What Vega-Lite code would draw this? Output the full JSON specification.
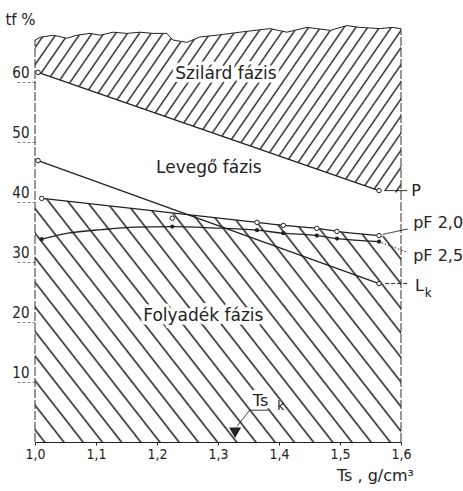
{
"$schema": "https://vega.github.io/schema/vega-lite/v6.json",
"width": 366, "height": 420,
"autosize": {"type": "none"},
"padding": {"left": 35, "top": 22, "right": 62, "bottom": 49},
"background": "white",
"config": {"view": {"stroke": null}, "font": "DejaVu Sans"},
"datasets": {
"curves": [
{"s":"P","x":1.005,"y":61.6,"m":"o","ln":1},
{"s":"P","x":1.564,"y":41.9,"m":"o","ln":1},
{"s":"L","x":1.005,"y":46.9,"m":"o","ln":1},
{"s":"L","x":1.564,"y":26.4,"m":"o","ln":1},
{"s":"pF20","x":1.011,"y":40.6,"m":"o","ln":1},
{"s":"pF20","x":1.225,"y":37.3,"m":"o","ln":0},
{"s":"pF20","x":1.364,"y":36.6,"m":"o","ln":1},
{"s":"pF20","x":1.407,"y":36.1,"m":"o","ln":1},
{"s":"pF20","x":1.462,"y":35.6,"m":"o","ln":1},
{"s":"pF20","x":1.495,"y":35.1,"m":"o","ln":1},
{"s":"pF20","x":1.564,"y":34.4,"m":"o","ln":1},
{"s":"pF25","x":1.011,"y":33.8,"m":"f","ln":1},
{"s":"pF25","x":1.054,"y":34.8,"m":"-","ln":1},
{"s":"pF25","x":1.11,"y":35.4,"m":"-","ln":1},
{"s":"pF25","x":1.164,"y":35.8,"m":"-","ln":1},
{"s":"pF25","x":1.225,"y":35.9,"m":"f","ln":1},
{"s":"pF25","x":1.29,"y":35.7,"m":"-","ln":1},
{"s":"pF25","x":1.364,"y":35.3,"m":"f","ln":1},
{"s":"pF25","x":1.407,"y":34.8,"m":"f","ln":1},
{"s":"pF25","x":1.462,"y":34.4,"m":"f","ln":1},
{"s":"pF25","x":1.495,"y":33.9,"m":"f","ln":1},
{"s":"pF25","x":1.564,"y":33.4,"m":"f","ln":1}
],
"liquid": [
{"x":1.0,"y":40.7},{"x":1.011,"y":40.6},{"x":1.364,"y":36.6},{"x":1.407,"y":36.1},{"x":1.462,"y":35.6},{"x":1.495,"y":35.1},{"x":1.564,"y":34.4},{"x":1.6,"y":34.0}
],
"solid": [
{"x":1.0,"y":61.8},{"x":1.564,"y":41.9},{"x":1.6,"y":41.5}
],
"wave": [
{"x":1.0,"y":66.95},{"x":1.008,"y":67.45},{"x":1.03,"y":67.8},{"x":1.052,"y":67.3},{"x":1.069,"y":67.8},{"x":1.09,"y":68.1},{"x":1.107,"y":67.8},{"x":1.128,"y":68.3},{"x":1.151,"y":68.1},{"x":1.172,"y":68.3},{"x":1.193,"y":68.1},{"x":1.216,"y":68.1},{"x":1.226,"y":67.0},{"x":1.249,"y":66.6},{"x":1.27,"y":67.5},{"x":1.298,"y":67.8},{"x":1.336,"y":68.3},{"x":1.385,"y":68.9},{"x":1.413,"y":68.3},{"x":1.446,"y":69.1},{"x":1.484,"y":68.6},{"x":1.511,"y":69.4},{"x":1.533,"y":69.1},{"x":1.566,"y":68.9},{"x":1.585,"y":69.1},{"x":1.6,"y":68.9}
],
"borders": [
{"x":1.0,"y":0,"y2":67.0},{"x":1.6,"y":0,"y2":68.9}
],
"leaders": [
{"x":1.574,"y":41.9,"x2":1.61,"y2":41.9,"d":"solid"},
{"x":1.57,"y":34.6,"x2":1.611,"y2":35.5,"d":"solid"},
{"x":1.568,"y":33.2,"x2":1.611,"y2":31.6,"d":"dot"},
{"x":1.574,"y":26.4,"x2":1.613,"y2":26.4,"d":"dash"},
{"x":1.331,"y":2.6,"x2":1.352,"y2":5.3,"d":"solid"},
{"x":1.352,"y":5.3,"x2":1.382,"y2":5.3,"d":"solid"}
],
"marker": [{"x":1.328,"y":1.55}],
"regionLabels": [
{"t":"Szilárd fázis","x":1.313,"y":61.4},
{"t":"Levegő fázis","x":1.285,"y":45.6},
{"t":"Folyadék fázis","x":1.276,"y":21.0}
],
"curveLabels": [
{"t":"P","x":1.617,"y":41.9},
{"t":"pF 2,0","x":1.62,"y":36.5},
{"t":"pF 2,5","x":1.62,"y":31.0},
{"t":"L","x":1.623,"y":26.0},
{"t":"Ts","x":1.357,"y":6.9}
],
"subs": [
{"t":"k","x":1.639,"y":24.8},
{"t":"k","x":1.397,"y":6.0}
]
},
"encoding": {
"x": {"field":"x","type":"quantitative","scale":{"domain":[1.0,1.6],"nice":false,"zero":false},
 "axis":{"values":[1.0,1.1,1.2,1.3,1.4,1.5,1.6],"labelExpr":"replace(format(datum.value,'.1f'),'.',',')","title":"Ts , g/cm³","grid":false,"domainColor":"#222","domainWidth":1.2,"tickColor":"#222","tickSize":3,"labelFont":"DejaVu Sans Condensed, Liberation Sans Narrow, DejaVu Sans","labelFontSize":14,"labelColor":"#222","labelPadding":2,"labelFlush":false,"titleFont":"DejaVu Sans","titleFontSize":16,"titleFontWeight":"normal","titleColor":"#222","titleX":340,"titleY":33,"titleAlign":"center","titleBaseline":"middle"}},
"y": {"field":"y","type":"quantitative","scale":{"domain":[0,70],"nice":false,"zero":false},
 "axis":{"values":[10,20,30,40,50,60],"domain":false,"grid":false,"tickSize":20,"tickDash":[3,2],"tickColor":"#666","tickWidth":0.8,"labelPadding":-14,"labelOffset":-10,"labelFont":"DejaVu Sans Condensed, Liberation Sans Narrow, DejaVu Sans","labelFontSize":15,"labelColor":"#222","title":"tf %","titleAngle":0,"titleX":-15,"titleY":-3,"titleAlign":"center","titleBaseline":"middle","titleFont":"DejaVu Sans","titleFontSize":15,"titleFontWeight":"normal","titleColor":"#222"}}
},
"layer": [
{"data":{"name":"liquid"},
 "mark":{"type":"area","opacity":1,"strokeWidth":0,"fill":{"gradient":"linear","x1":0,"y1":1,"x2":1.1962,"y2":0.3765,"stops":[
{"offset":0,"color":"#fff"},
{"offset":0.0137,"color":"#fff"},{"offset":0.0172,"color":"#222"},{"offset":0.0207,"color":"#fff"},
{"offset":0.0482,"color":"#fff"},{"offset":0.0517,"color":"#222"},{"offset":0.0552,"color":"#fff"},
{"offset":0.0827,"color":"#fff"},{"offset":0.0862,"color":"#222"},{"offset":0.0897,"color":"#fff"},
{"offset":0.1172,"color":"#fff"},{"offset":0.1207,"color":"#222"},{"offset":0.1242,"color":"#fff"},
{"offset":0.1517,"color":"#fff"},{"offset":0.1552,"color":"#222"},{"offset":0.1587,"color":"#fff"},
{"offset":0.1862,"color":"#fff"},{"offset":0.1897,"color":"#222"},{"offset":0.1932,"color":"#fff"},
{"offset":0.2206,"color":"#fff"},{"offset":0.2241,"color":"#222"},{"offset":0.2276,"color":"#fff"},
{"offset":0.2551,"color":"#fff"},{"offset":0.2586,"color":"#222"},{"offset":0.2621,"color":"#fff"},
{"offset":0.2896,"color":"#fff"},{"offset":0.2931,"color":"#222"},{"offset":0.2966,"color":"#fff"},
{"offset":0.3241,"color":"#fff"},{"offset":0.3276,"color":"#222"},{"offset":0.3311,"color":"#fff"},
{"offset":0.3586,"color":"#fff"},{"offset":0.3621,"color":"#222"},{"offset":0.3656,"color":"#fff"},
{"offset":0.3931,"color":"#fff"},{"offset":0.3966,"color":"#222"},{"offset":0.4001,"color":"#fff"},
{"offset":0.4275,"color":"#fff"},{"offset":0.4310,"color":"#222"},{"offset":0.4345,"color":"#fff"},
{"offset":0.4620,"color":"#fff"},{"offset":0.4655,"color":"#222"},{"offset":0.4690,"color":"#fff"},
{"offset":0.4965,"color":"#fff"},{"offset":0.5000,"color":"#222"},{"offset":0.5035,"color":"#fff"},
{"offset":0.5310,"color":"#fff"},{"offset":0.5345,"color":"#222"},{"offset":0.5380,"color":"#fff"},
{"offset":0.5655,"color":"#fff"},{"offset":0.5690,"color":"#222"},{"offset":0.5725,"color":"#fff"},
{"offset":0.5999,"color":"#fff"},{"offset":0.6034,"color":"#222"},{"offset":0.6069,"color":"#fff"},
{"offset":0.6344,"color":"#fff"},{"offset":0.6379,"color":"#222"},{"offset":0.6414,"color":"#fff"},
{"offset":0.6689,"color":"#fff"},{"offset":0.6724,"color":"#222"},{"offset":0.6759,"color":"#fff"},
{"offset":0.7034,"color":"#fff"},{"offset":0.7069,"color":"#222"},{"offset":0.7104,"color":"#fff"},
{"offset":0.7379,"color":"#fff"},{"offset":0.7414,"color":"#222"},{"offset":0.7449,"color":"#fff"},
{"offset":0.7724,"color":"#fff"},{"offset":0.7759,"color":"#222"},{"offset":0.7794,"color":"#fff"},
{"offset":0.8068,"color":"#fff"},{"offset":0.8103,"color":"#222"},{"offset":0.8138,"color":"#fff"},
{"offset":0.8413,"color":"#fff"},{"offset":0.8448,"color":"#222"},{"offset":0.8483,"color":"#fff"},
{"offset":0.8758,"color":"#fff"},{"offset":0.8793,"color":"#222"},{"offset":0.8828,"color":"#fff"},
{"offset":0.9103,"color":"#fff"},{"offset":0.9138,"color":"#222"},{"offset":0.9173,"color":"#fff"},
{"offset":0.9448,"color":"#fff"},{"offset":0.9483,"color":"#222"},{"offset":0.9518,"color":"#fff"},
{"offset":0.9793,"color":"#fff"},{"offset":0.9828,"color":"#222"},{"offset":0.9863,"color":"#fff"},
{"offset":1,"color":"#fff"}]}},
 "encoding":{"y2":{"datum":0}}},
{"data":{"name":"solid"},
 "mark":{"type":"area","opacity":1,"strokeWidth":0,"fill":{"gradient":"linear","x1":0,"y1":0,"x2":1.1979,"y2":0.386,"stops":[
{"offset":0,"color":"#fff"},
{"offset":0.0087,"color":"#fff"},{"offset":0.0122,"color":"#222"},{"offset":0.0157,"color":"#fff"},
{"offset":0.0331,"color":"#fff"},{"offset":0.0366,"color":"#222"},{"offset":0.0401,"color":"#fff"},
{"offset":0.0575,"color":"#fff"},{"offset":0.0610,"color":"#222"},{"offset":0.0645,"color":"#fff"},
{"offset":0.0819,"color":"#fff"},{"offset":0.0854,"color":"#222"},{"offset":0.0889,"color":"#fff"},
{"offset":0.1063,"color":"#fff"},{"offset":0.1098,"color":"#222"},{"offset":0.1133,"color":"#fff"},
{"offset":0.1306,"color":"#fff"},{"offset":0.1341,"color":"#222"},{"offset":0.1376,"color":"#fff"},
{"offset":0.1550,"color":"#fff"},{"offset":0.1585,"color":"#222"},{"offset":0.1620,"color":"#fff"},
{"offset":0.1794,"color":"#fff"},{"offset":0.1829,"color":"#222"},{"offset":0.1864,"color":"#fff"},
{"offset":0.2038,"color":"#fff"},{"offset":0.2073,"color":"#222"},{"offset":0.2108,"color":"#fff"},
{"offset":0.2282,"color":"#fff"},{"offset":0.2317,"color":"#222"},{"offset":0.2352,"color":"#fff"},
{"offset":0.2526,"color":"#fff"},{"offset":0.2561,"color":"#222"},{"offset":0.2596,"color":"#fff"},
{"offset":0.2770,"color":"#fff"},{"offset":0.2805,"color":"#222"},{"offset":0.2840,"color":"#fff"},
{"offset":0.3014,"color":"#fff"},{"offset":0.3049,"color":"#222"},{"offset":0.3084,"color":"#fff"},
{"offset":0.3258,"color":"#fff"},{"offset":0.3293,"color":"#222"},{"offset":0.3328,"color":"#fff"},
{"offset":0.3502,"color":"#fff"},{"offset":0.3537,"color":"#222"},{"offset":0.3572,"color":"#fff"},
{"offset":0.3745,"color":"#fff"},{"offset":0.3780,"color":"#222"},{"offset":0.3815,"color":"#fff"},
{"offset":0.3989,"color":"#fff"},{"offset":0.4024,"color":"#222"},{"offset":0.4059,"color":"#fff"},
{"offset":0.4233,"color":"#fff"},{"offset":0.4268,"color":"#222"},{"offset":0.4303,"color":"#fff"},
{"offset":0.4477,"color":"#fff"},{"offset":0.4512,"color":"#222"},{"offset":0.4547,"color":"#fff"},
{"offset":0.4721,"color":"#fff"},{"offset":0.4756,"color":"#222"},{"offset":0.4791,"color":"#fff"},
{"offset":0.4965,"color":"#fff"},{"offset":0.5000,"color":"#222"},{"offset":0.5035,"color":"#fff"},
{"offset":0.5209,"color":"#fff"},{"offset":0.5244,"color":"#222"},{"offset":0.5279,"color":"#fff"},
{"offset":0.5453,"color":"#fff"},{"offset":0.5488,"color":"#222"},{"offset":0.5523,"color":"#fff"},
{"offset":0.5697,"color":"#fff"},{"offset":0.5732,"color":"#222"},{"offset":0.5767,"color":"#fff"},
{"offset":0.5941,"color":"#fff"},{"offset":0.5976,"color":"#222"},{"offset":0.6011,"color":"#fff"},
{"offset":0.6185,"color":"#fff"},{"offset":0.6220,"color":"#222"},{"offset":0.6255,"color":"#fff"},
{"offset":0.6428,"color":"#fff"},{"offset":0.6463,"color":"#222"},{"offset":0.6498,"color":"#fff"},
{"offset":0.6672,"color":"#fff"},{"offset":0.6707,"color":"#222"},{"offset":0.6742,"color":"#fff"},
{"offset":0.6916,"color":"#fff"},{"offset":0.6951,"color":"#222"},{"offset":0.6986,"color":"#fff"},
{"offset":0.7160,"color":"#fff"},{"offset":0.7195,"color":"#222"},{"offset":0.7230,"color":"#fff"},
{"offset":0.7404,"color":"#fff"},{"offset":0.7439,"color":"#222"},{"offset":0.7474,"color":"#fff"},
{"offset":0.7648,"color":"#fff"},{"offset":0.7683,"color":"#222"},{"offset":0.7718,"color":"#fff"},
{"offset":0.7892,"color":"#fff"},{"offset":0.7927,"color":"#222"},{"offset":0.7962,"color":"#fff"},
{"offset":0.8136,"color":"#fff"},{"offset":0.8171,"color":"#222"},{"offset":0.8206,"color":"#fff"},
{"offset":0.8380,"color":"#fff"},{"offset":0.8415,"color":"#222"},{"offset":0.8450,"color":"#fff"},
{"offset":0.8624,"color":"#fff"},{"offset":0.8659,"color":"#222"},{"offset":0.8694,"color":"#fff"},
{"offset":0.8867,"color":"#fff"},{"offset":0.8902,"color":"#222"},{"offset":0.8937,"color":"#fff"},
{"offset":0.9111,"color":"#fff"},{"offset":0.9146,"color":"#222"},{"offset":0.9181,"color":"#fff"},
{"offset":0.9355,"color":"#fff"},{"offset":0.9390,"color":"#222"},{"offset":0.9425,"color":"#fff"},
{"offset":0.9599,"color":"#fff"},{"offset":0.9634,"color":"#222"},{"offset":0.9669,"color":"#fff"},
{"offset":0.9843,"color":"#fff"},{"offset":0.9878,"color":"#222"},{"offset":0.9913,"color":"#fff"},
{"offset":1,"color":"#fff"}]}},
 "encoding":{"y2":{"datum":70}}},
{"data":{"name":"wave"},
 "mark":{"type":"area","fill":"white","opacity":1,"strokeWidth":0},
 "encoding":{"y2":{"datum":70}}},
{"data":{"name":"wave"},
 "mark":{"type":"line","color":"#222","strokeWidth":1},
 "encoding":{}},
{"data":{"name":"borders"},
 "mark":{"type":"rule","color":"#333","strokeWidth":1,"strokeDash":[9,2]},
 "encoding":{"y2":{"field":"y2"}}},
{"data":{"name":"curves"},
 "transform":[{"filter":"datum.ln == 1"}],
 "mark":{"type":"line","color":"#222","strokeWidth":1.3,"interpolate":"monotone"},
 "encoding":{"detail":{"field":"s"}}},
{"data":{"name":"curves"},
 "transform":[{"filter":"datum.m == 'o'"}],
 "mark":{"type":"point","filled":true,"fill":"white","stroke":"#222","strokeWidth":1,"size":20,"opacity":1},
 "encoding":{}},
{"data":{"name":"curves"},
 "transform":[{"filter":"datum.m == 'f'"}],
 "mark":{"type":"circle","color":"#222","size":18,"opacity":1},
 "encoding":{}},
{"data":{"name":"leaders"},
 "mark":{"type":"rule","color":"#222","strokeWidth":1},
 "encoding":{"x2":{"field":"x2"},"y2":{"field":"y2"},
  "strokeDash":{"field":"d","type":"nominal","scale":{"domain":["solid","dash","dot"],"range":[[1,0],[4,2],[1.5,2]]},"legend":null}}},
{"data":{"name":"marker"},
 "mark":{"type":"point","shape":"triangle-down","filled":true,"size":144,"color":"#222","opacity":1},
 "encoding":{}},
{"data":{"name":"regionLabels"},
 "mark":{"type":"text","font":"DejaVu Sans","fontSize":17,"align":"center","baseline":"middle","fill":"white","stroke":"white","strokeWidth":7,"strokeJoin":"round"},
 "encoding":{"text":{"field":"t","type":"nominal"}}},
{"data":{"name":"regionLabels"},
 "mark":{"type":"text","font":"DejaVu Sans","fontSize":17,"align":"center","baseline":"middle","color":"#222"},
 "encoding":{"text":{"field":"t","type":"nominal"}}},
{"data":{"name":"curveLabels"},
 "transform":[{"filter":"datum.t == 'Ts'"}],
 "mark":{"type":"text","font":"DejaVu Sans","fontSize":17,"align":"left","baseline":"middle","fill":"white","stroke":"white","strokeWidth":6,"strokeJoin":"round"},
 "encoding":{"text":{"field":"t","type":"nominal"}}},
{"data":{"name":"curveLabels"},
 "mark":{"type":"text","font":"DejaVu Sans","fontSize":16,"align":"left","baseline":"middle","color":"#222"},
 "encoding":{"text":{"field":"t","type":"nominal"}}},
{"data":{"name":"subs"},
 "mark":{"type":"text","font":"DejaVu Sans","fontSize":12,"align":"left","baseline":"middle","color":"#111"},
 "encoding":{"text":{"field":"t","type":"nominal"}}}
]
}
